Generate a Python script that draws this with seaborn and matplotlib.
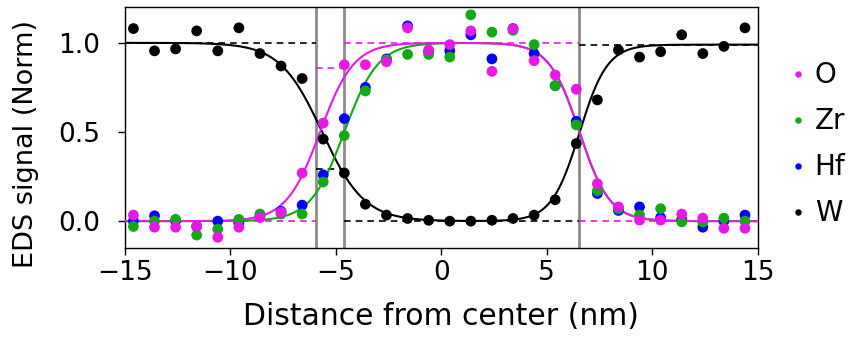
import matplotlib
matplotlib.use("Agg")
import matplotlib.pyplot as plt
import numpy as np
import pandas as pd
import seaborn as sns

# measured EDS line profile, positions in nm from the centre
distance = [-14.6 + i for i in range(30)]
O = [0.034, -0.034, -0.034, -0.028, -0.09, -0.034, 0.02, 0.05, 0.27, 0.55,
     0.877, 0.877, 0.894, 1.084, 0.96, 0.99, 1.067, 0.84, 1.078, 0.90,
     0.82, 0.74, 0.21, 0.08, 0.006, 0.006, 0.04, 0.017, -0.04, -0.04]
Zr = [-0.03, 0.0, 0.01, -0.078, -0.045, 0.01, 0.04, 0.04, 0.04, 0.22,
      0.48, 0.73, 0.905, 0.935, 0.935, 0.92, 1.157, 1.06, 1.07, 0.99,
      0.76, 0.54, 0.17, 0.07, 0.034, 0.07, -0.004, -0.004, 0.017, 0.0]
Hf = [0.0, 0.03, 0.0, -0.03, 0.0, -0.01, 0.03, 0.055, 0.09, 0.26,
      0.575, 0.75, 0.91, 1.095, 0.95, 0.955, 1.045, 0.91, 1.08, 0.94,
      0.76, 0.56, 0.155, 0.06, 0.08, 0.02, 0.01, -0.034, 0.0, 0.034]
W = [1.08, 0.955, 0.966, 1.067, 0.955, 1.084, 0.94, 0.87, 0.80, 0.46,
     0.27, 0.095, 0.034, 0.015, 0.005, 0.0, 0.0, 0.005, 0.015, 0.034,
     0.12, 0.435, 0.68, 0.96, 0.92, 0.95, 1.045, 0.94, 0.98, 1.084]

# interface positions (nm) and fitted sigmoid parameters (centre, width)
interfaces = [-5.95, -4.6, 6.55]
fit_O = [(-5.75, 0.8), (6.55, 0.72)]
fit_Zr = [(-4.6, 0.8), (6.55, 0.72)]
fit_W = [(-5.65, 1.0), (6.55, 0.66)]
w_right_level = 0.99

# dashed reference levels: (x0, x1, y)
levels_W = [(-15, -5.95, 1.0), (-5.95, -4.6, 0.29), (-4.6, 6.55, 0.0), (6.55, 15, 0.99)]
levels_O = [(-15, -5.95, 0.0), (-5.95, -4.6, 0.86), (-4.6, 6.55, 1.0), (6.55, 15, 0.0)]

colors = {"O": "#e619e6", "Zr": "#14a814", "Hf": "#0000ff", "W": "#000000"}


def logistic(x, c, w):
    return 1.0 / (1.0 + np.exp(-(x - c) / w))


xs = np.linspace(-15, 15, 600)
(c1, w1), (c2, w2) = fit_O
curve_O = logistic(xs, c1, w1) * (1 - logistic(xs, c2, w2))
(c1, w1), (c2, w2) = fit_Zr
curve_Zr = logistic(xs, c1, w1) * (1 - logistic(xs, c2, w2))
(c1, w1), (c2, w2) = fit_W
curve_W = 1 - logistic(xs, c1, w1) + w_right_level * logistic(xs, c2, w2)

df = pd.concat([
    pd.DataFrame({"x": distance, "y": vals, "el": name})
    for name, vals in [("Hf", Hf), ("Zr", Zr), ("O", O), ("W", W)]
], ignore_index=True)

sns.set_style("ticks")
plt.rcParams["font.family"] = ["DejaVu Sans"]
plt.rcParams["text.color"] = "black"
plt.rcParams["axes.labelcolor"] = "black"
plt.rcParams["xtick.color"] = "black"
plt.rcParams["ytick.color"] = "black"

fig = plt.figure(figsize=(8.59, 3.41), dpi=100)
ax = fig.add_axes([0.1455, 0.273, 0.7365, 0.706])

for x in interfaces:
    ax.axvline(x, color="#8c8c8c", lw=2, zorder=1)

for x0, x1, y in levels_W:
    ax.hlines(y, x0, x1, colors="black", linestyles=(0, (4, 3)), lw=1.2, zorder=2)
for x0, x1, y in levels_O:
    ax.hlines(y, x0, x1, colors=colors["O"], linestyles=(0, (4, 3)), lw=1.2, zorder=2)

sns.lineplot(x=xs, y=curve_W, color="black", lw=1.5, ax=ax, zorder=3)
sns.lineplot(x=xs, y=curve_Zr, color=colors["Zr"], lw=1.5, ax=ax, zorder=3)
sns.lineplot(x=xs, y=curve_O, color=colors["O"], lw=1.5, ax=ax, zorder=3)

sns.scatterplot(data=df, x="x", y="y", hue="el", hue_order=["O", "Zr", "Hf", "W"],
                palette=colors, s=60, edgecolor="none", ax=ax, zorder=4)

ax.set_xlim(-15, 15)
ax.set_ylim(-0.15, 1.2)
ax.set_xticks([-15, -10, -5, 0, 5, 10, 15])
ax.set_yticks([0.0, 0.5, 1.0])
ax.tick_params(labelsize=19, length=5, width=1, direction="out", colors="black")
ax.tick_params(axis="y", pad=13)
ax.set_xlabel("Distance from center (nm)", fontsize=21.5, labelpad=12)
ax.set_ylabel("EDS signal (Norm)", fontsize=19.5)
ax.yaxis.set_label_coords(-0.136, 0.43)
for sp in ax.spines.values():
    sp.set_visible(True)
    sp.set_color("black")
    sp.set_linewidth(1)

ax.legend(loc="center left", bbox_to_anchor=(1.0, 0.43), frameon=False,
          fontsize=20, markerscale=0.6, handlelength=1.1, handletextpad=0.05,
          labelspacing=0.65)

fig.savefig("out.png", dpi=100)
plt.close(fig)
